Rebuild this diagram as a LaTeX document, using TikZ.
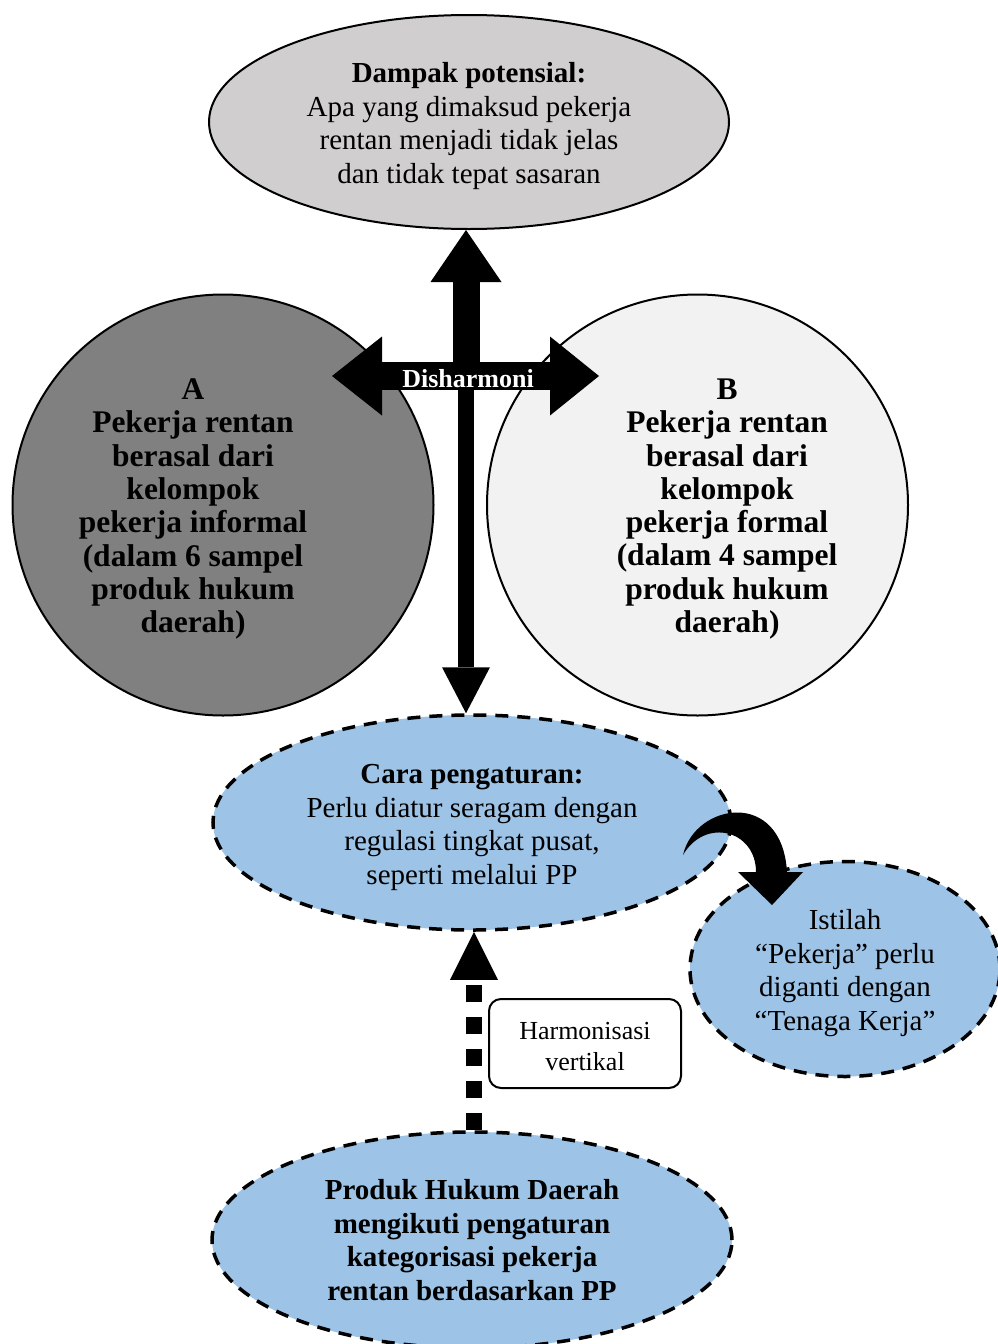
\documentclass[tikz,border=0pt]{standalone}
\usepackage{fontspec}
\setmainfont{Liberation Serif}
\usetikzlibrary{shapes.geometric,arrows.meta}
\definecolor{dampakgray}{HTML}{D0CECE}
\definecolor{informalfill}{HTML}{808080}
\definecolor{formalfill}{HTML}{F2F2F2}
\definecolor{aturfill}{HTML}{9DC3E6}
% invisible strut that pushes a text block down a little inside its shape
\newcommand{\topstrut}[1]{\rule{0pt}{#1}}
\begin{document}
\begin{tikzpicture}[x=1pt,y=-1pt,
  txt/.style={font=\fontsize{29}{33.5}\selectfont, align=center, inner sep=0pt},
  smalltxt/.style={font=\fontsize{26}{31}\selectfont, align=center, inner sep=0pt},
  grouptxt/.style={font=\fontsize{31.5}{33.3}\selectfont\bfseries, align=center, inner sep=0pt},
  solidell/.style={ellipse, draw, line width=2pt, inner sep=0pt, txt},
  dashell/.style={ellipse, draw, fill=aturfill, line width=3.5pt,
    dash pattern=on 13pt off 9pt, inner sep=0pt, txt},
  groupcircle/.style={circle, draw, line width=2pt, minimum size=421pt, inner sep=0pt},
  blockarrow/.style={black, line cap=butt},
]
\useasboundingbox (0,0) rectangle (998,1344);

% upper ellipse: potential impact
\node[solidell, fill=dampakgray, minimum width=520pt, minimum height=214pt] (dampak) at (469,122)
  {\topstrut{28pt}\textbf{Dampak potensial:}\\Apa yang dimaksud pekerja\\rentan menjadi tidak jelas\\dan tidak tepat sasaran};

% the two groups of vulnerable workers
\node[groupcircle, fill=informalfill] (A) at (223,505) {};
\node[grouptxt] (Atext) at (193,509)
  {A\\Pekerja rentan\\berasal dari\\kelompok\\pekerja informal\\(dalam 6 sampel\\produk hukum\\daerah)};
\node[groupcircle, fill=formalfill] (B) at (697.5,505) {};
\node[grouptxt] (Btext) at (727,509)
  {B\\Pekerja rentan\\berasal dari\\kelompok\\pekerja formal\\(dalam 4 sampel\\produk hukum\\daerah)};

% regulation approach and its consequence
\node[dashell, minimum width=518pt, minimum height=215pt] (atur) at (472,822.5)
  {\topstrut{29pt}\textbf{Cara pengaturan:}\\Perlu diatur seragam dengan\\regulasi tingkat pusat,\\seperti melalui PP};
\node[dashell, minimum width=310pt, minimum height=215pt] (istilah) at (845,969)
  {\topstrut{28pt}Istilah\\“Pekerja” perlu\\diganti dengan\\“Tenaga Kerja”};

% local legal products
\node[dashell, minimum width=520pt, minimum height=216pt] (produk) at (472,1240)
  {\textbf{Produk Hukum Daerah}\\\textbf{mengikuti pengaturan}\\\textbf{kategorisasi pekerja}\\\textbf{rentan berdasarkan PP}};

% label box beside the dotted arrow
\node[smalltxt, draw, line width=2pt, rounded corners=12pt, minimum width=192pt,
  minimum height=89pt] (harmoni) at (585,1043.5)
  {\topstrut{23pt}Harmonisasi\\vertikal};

% crossing of the block arrows
\coordinate (cross) at (466,376);
\coordinate (disL) at (332,376);
\coordinate (disR) at (599,376);

\draw[blockarrow, line width=16pt, -{Triangle[width=48pt,length=46pt,line width=0pt]}]
  (cross) -- (cross |- atur.north);
\draw[blockarrow, line width=27pt, -{Triangle[width=71pt,length=52pt,line width=0pt]}]
  (cross) -- (cross |- dampak.south);
\draw[blockarrow, line width=28pt,
  {Triangle[width=79pt,length=50pt,line width=0pt]}-{Triangle[width=79pt,length=49pt,line width=0pt]}]
  (disL) -- (disR);
\node[smalltxt, font=\fontsize{26}{31}\selectfont\bfseries, text=white] (dis) at (468,379) {Disharmoni};

% curved arrow from the regulation ellipse to the terminology ellipse
\fill[black] (683,855) .. controls (695,803) and (782,788) .. (787,872)
  -- (803,872) -- (772,905) -- (738,872) -- (756,872)
  .. controls (756,830) and (705,817) .. (683,855) -- cycle;

% dotted arrow for vertical harmonisation
\draw[blockarrow, line width=16pt, dash pattern=on 17pt off 15pt,
  -{Triangle[width=48pt,length=48pt,line width=0pt]}]
  ([xshift=2pt]produk.north) -- ([xshift=2pt]atur.south);
\end{tikzpicture}
\end{document}
